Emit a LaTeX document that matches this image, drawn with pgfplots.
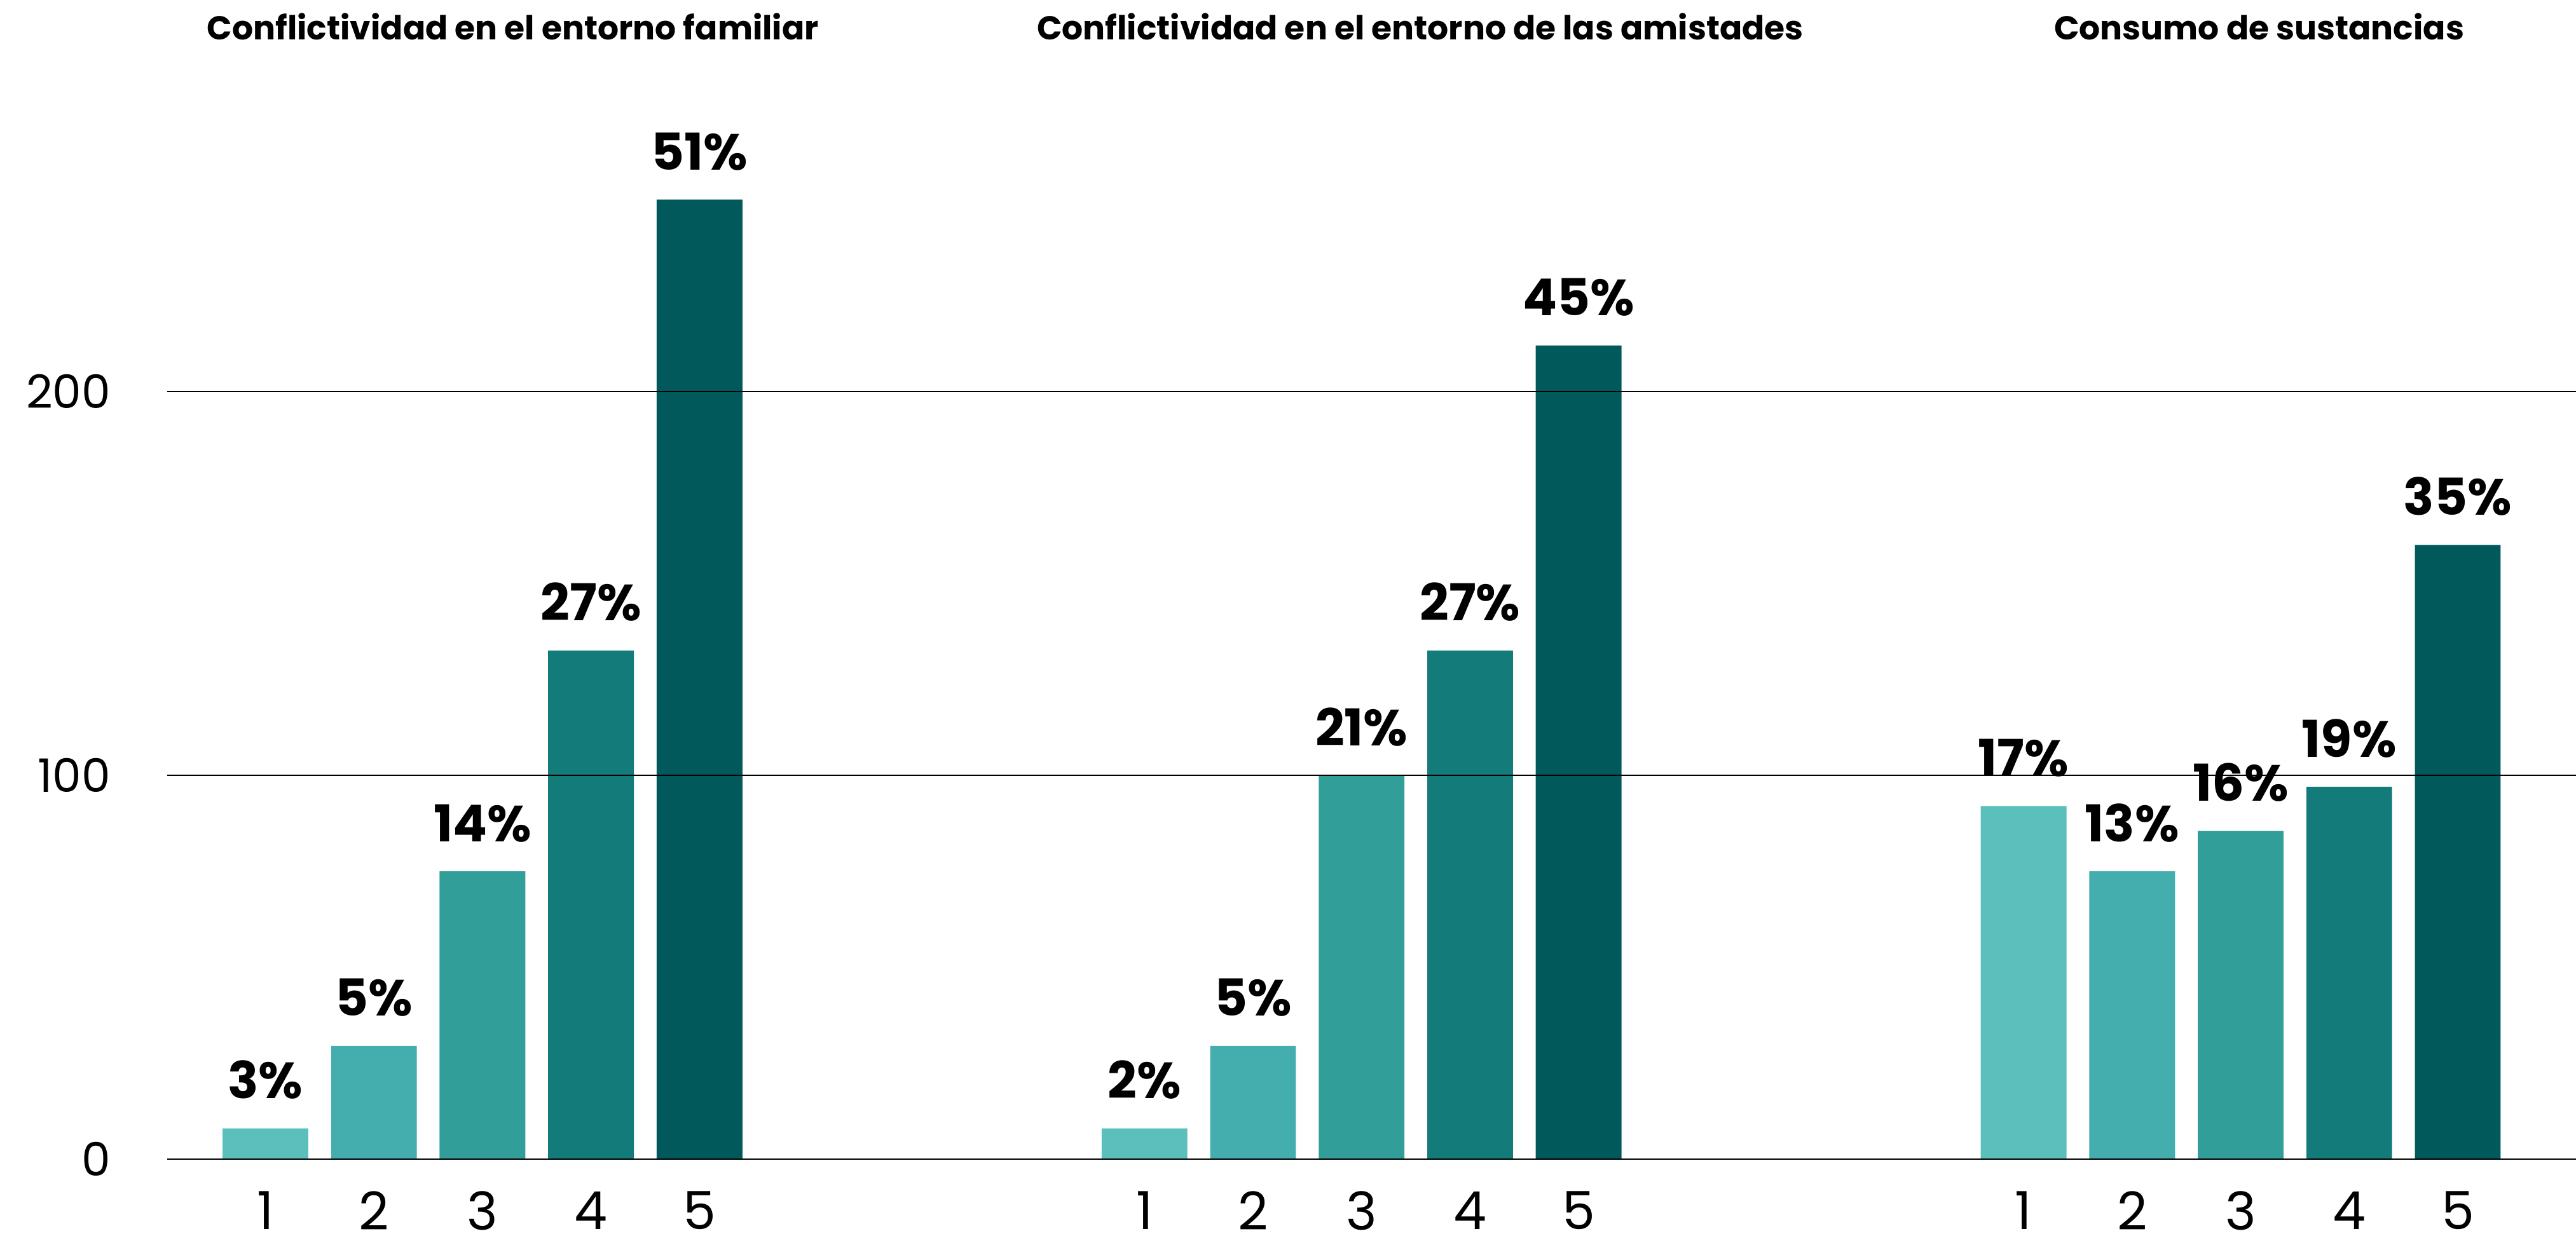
\documentclass[border=0pt]{standalone}
\usepackage{fontspec}
\setmainfont{Poppins}
\usepackage{pgfplots}
\pgfplotsset{compat=1.18}
\definecolor{c1}{HTML}{5BC0BC}
\definecolor{c2}{HTML}{43AEAD}
\definecolor{c3}{HTML}{329E99}
\definecolor{c4}{HTML}{137C7B}
\definecolor{c5}{HTML}{02595C}
\pgfplotsset{
  mybar/.style={ybar, bar shift=0pt, bar width=0.79, draw=none, fill=#1,
    point meta=explicit symbolic,
    nodes near coords={\pgfplotspointmeta\%},
    every node near coord/.append style={font=\bfseries\fontsize{16}{18}\selectfont,
      inner sep=0pt, anchor=south, yshift=9pt, black}}
}
\begin{document}
\begin{tikzpicture}
\begin{axis}[
  at={(0,0)}, anchor=south west,
  scale only axis,
  width=757.8pt, height=364.8pt,
  xmin=-0.905, xmax=21.29,
  ymin=0, ymax=302,
  clip=false,
  axis on top,
  axis line style={draw=none},
  ytick={0,100,200},
  ymajorgrids,
  grid style={black, line width=0.5pt},
  major tick length=0pt,
  xtick={0,1,2,3,4,8.1,9.1,10.1,11.1,12.1,16.2,17.2,18.2,19.2,20.2},
  xticklabels={1,2,3,4,5,1,2,3,4,5,1,2,3,4,5},
  /pgf/number format/assume math mode=true,
  yticklabel style={font=\fontsize{14.5}{16}\selectfont, inner sep=0pt, anchor=east, xshift=-17.6pt},
  xticklabel style={font=\fontsize{16.5}{18}\selectfont, inner sep=0pt, anchor=north, yshift=-10pt},
]
\addplot[mybar=c1] table[x=x,y=y,meta=lab] {
x y lab
0 8 3
8.1 8 2
16.2 92 17
};
\addplot[mybar=c2] table[x=x,y=y,meta=lab] {
x y lab
1 29.5 5
9.1 29.5 5
17.2 75 13
};
\addplot[mybar=c3] table[x=x,y=y,meta=lab] {
x y lab
2 75 14
10.1 100 21
18.2 85.5 16
};
\addplot[mybar=c4] table[x=x,y=y,meta=lab] {
x y lab
3 132.5 27
11.1 132.5 27
19.2 97 19
};
\addplot[mybar=c5] table[x=x,y=y,meta=lab] {
x y lab
4 250 51
12.1 212 45
20.2 160 35
};
\draw[black, line width=0.5pt] (axis cs:-0.905,0) -- (axis cs:21.29,0);
\node[font=\bfseries\fontsize{10.4}{12}\selectfont] at (axis cs:2.28,295) {Conflictividad en el entorno familiar};
\node[font=\bfseries\fontsize{10.4}{12}\selectfont] at (axis cs:10.64,295) {Conflictividad en el entorno de las amistades};
\node[font=\bfseries\fontsize{10.4}{12}\selectfont] at (axis cs:18.37,295) {Consumo de sustancias};
\end{axis}
\pgfresetboundingbox
\path[use as bounding box] (-52.6pt,-28.4pt) rectangle (757.8pt,364.8pt);
\end{tikzpicture}
\end{document}
